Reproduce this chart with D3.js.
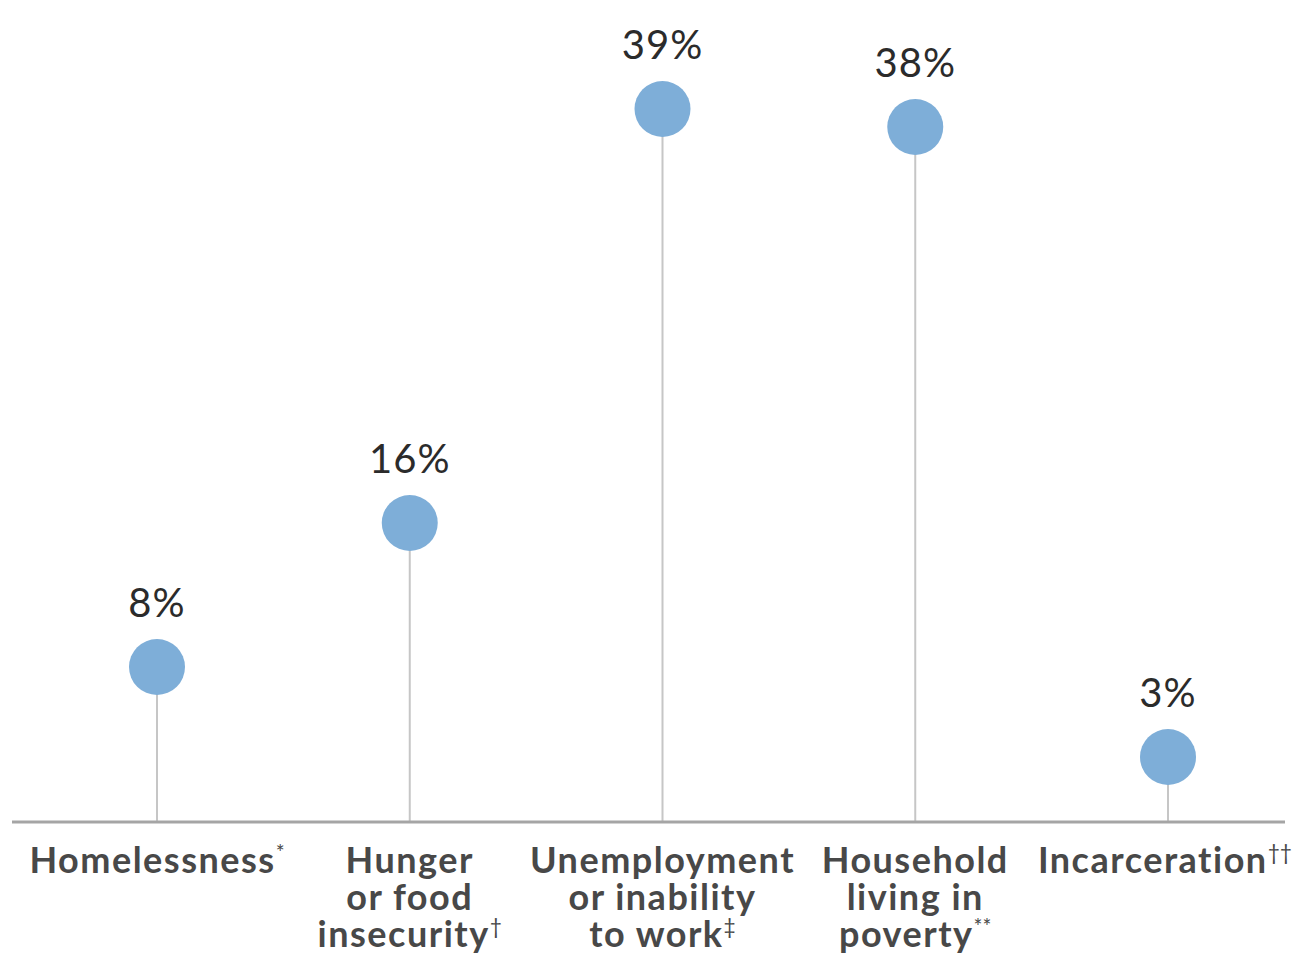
<!DOCTYPE html>
<html>
<head>
<meta charset="utf-8">
<script src="https://cdn.jsdelivr.net/npm/d3@7"></script>
<style>
  body { margin: 0; background: #fff; }
  .cat { font-family: "Lato", sans-serif; font-weight: 700; fill: #484848; letter-spacing: 1.5px; }
  .val { font-family: "Lato", sans-serif; font-weight: 400; fill: #2b2b2b; letter-spacing: 1px; }
</style>
</head>
<body>
<svg class="chart" width="1294" height="955"></svg>
<script>
// chart data
var categories = ["Homelessness", "Hunger or food insecurity", "Unemployment or inability to work", "Household living in poverty", "Incarceration"];
var labelLines = [["Homelessness"], ["Hunger", "or food", "insecurity"], ["Unemployment", "or inability", "to work"], ["Household", "living in", "poverty"], ["Incarceration"]];
var notes = ["*", "\u2020", "\u2021", "**", "\u2020\u2020"];
var values = [8, 16, 39, 38, 3];

var svg = d3.select(".chart");
var baseY = 822;

var xScale = d3.scalePoint().domain(categories).range([157, 1168]);
var yScale = d3.scaleLinear().domain([0, 40]).range([811, 91]);

var data = categories.map(function (c, i) {
    return { cat: c, value: values[i], lines: labelLines[i], note: notes[i] };
});

// stems
svg.selectAll("line.stem")
    .data(data).enter()
    .append("line")
    .attr("class", "stem")
    .attr("x1", function (d) { return xScale(d.cat); })
    .attr("x2", function (d) { return xScale(d.cat); })
    .attr("y1", baseY)
    .attr("y2", function (d) { return yScale(d.value); })
    .attr("stroke", "#c6c6c6")
    .attr("stroke-width", 2);

// baseline
svg.append("line")
    .attr("x1", 12).attr("x2", 1285)
    .attr("y1", baseY).attr("y2", baseY)
    .attr("stroke", "#a5a5a5")
    .attr("stroke-width", 3);

// dots
svg.selectAll("circle")
    .data(data).enter()
    .append("circle")
    .attr("cx", function (d) { return xScale(d.cat); })
    .attr("cy", function (d) { return yScale(d.value); })
    .attr("r", 28)
    .attr("fill", "#7eaed8");

// value labels
svg.selectAll("text.val")
    .data(data).enter()
    .append("text")
    .attr("class", "val")
    .attr("x", function (d) { return xScale(d.cat); })
    .attr("y", function (d) { return yScale(d.value) - 50; })
    .attr("text-anchor", "middle")
    .style("font-size", "40px")
    .text(function (d) { return d.value + "%"; });

// category labels
var cat = svg.selectAll("text.cat")
    .data(data).enter()
    .append("text")
    .attr("class", "cat")
    .attr("text-anchor", "middle")
    .style("font-size", "36px");

cat.each(function (d) {
    var t = d3.select(this);
    var x = xScale(d.cat);
    d.lines.forEach(function (line, j) {
        t.append("tspan")
            .attr("x", x)
            .attr("y", 873 + j * 37)
            .text(line);
        if (j === d.lines.length - 1) {
            t.append("tspan")
                .attr("dy", -13)
                .style("font-size", "21px")
                .style("font-weight", 400)
                .style("letter-spacing", "0px")
                .text(d.note);
        }
    });
});

// keep labels inside the edges
cat.each(function () {
    var b = this.getBBox();
    var shift = 0;
    if (b.x < 16) shift = 16 - b.x;
    if (b.x + b.width > 1292) shift = 1292 - (b.x + b.width);
    if (shift) {
        d3.select(this).selectAll("tspan").filter(function () { return this.hasAttribute("x"); })
            .attr("x", function () { return +d3.select(this).attr("x") + shift; });
    }
});
</script>
</body>
</html>
